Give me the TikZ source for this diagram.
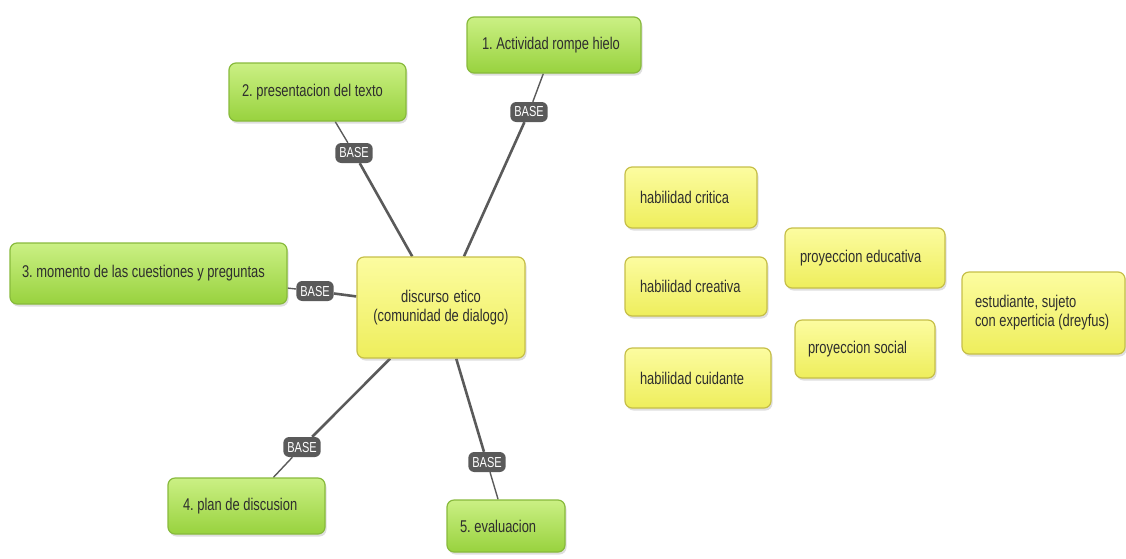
\documentclass[tikz,border=0pt]{standalone}
\usepackage{fontspec}
\setmainfont{Liberation Sans}[FakeStretch=0.76]
\usetikzlibrary{shadows,backgrounds}

\definecolor{greentop}{HTML}{CBF084}
\definecolor{greenbot}{HTML}{98D23E}
\definecolor{greenline}{HTML}{88BA3C}
\definecolor{yeltop}{HTML}{FCFCA0}
\definecolor{yelbot}{HTML}{EEEE5C}
\definecolor{yelline}{HTML}{C6BF48}
\definecolor{linkgray}{HTML}{5A5A5A}
\definecolor{inkgray}{HTML}{2E2E2E}

\newcommand\tightspace{\spaceskip=3.6pt plus 1pt minus 1pt\xspaceskip=3.6pt\hyphenpenalty=10000\relax}

\tikzset{
  mapbox/.style={rounded corners=7pt, line width=1.2pt, align=left,
    inner xsep=15pt, inner ysep=0pt, text=inkgray,
    font=\fontsize{17}{19}\selectfont,
    execute at begin node=\tightspace,
    drop shadow={shadow xshift=1.5pt, shadow yshift=-2.5pt, opacity=0.25}},
  stepbox/.style={mapbox, draw=greenline, top color=greentop, bottom color=greenbot},
  ideabox/.style={mapbox, draw=yelline, top color=yeltop, bottom color=yelbot},
  basetag/.style={fill=linkgray, text=white, rounded corners=6pt,
    font=\fontsize{14.5}{15}\selectfont, inner xsep=4pt, inner ysep=0pt,
    minimum height=20pt},
  link/.style={draw=linkgray, line width=2.6pt},
  thinlink/.style={draw=linkgray, line width=1.4pt}
}

\begin{document}
\begin{tikzpicture}[x=1pt,y=-1pt]
    \useasboundingbox (0,0) rectangle (1126,558);

    % Center
    \node[ideabox, align=center, text width=138pt, minimum height=101pt] (ctr) at (441,307.5)
        {discurso etico\\(comunidad de dialogo)};

    % Steps
    \node[stepbox, text width=144pt, minimum height=56pt] (step1) at (554,45) {1. Actividad rompe hielo};
    \node[stepbox, text width=151pt, inner xsep=13pt, minimum height=58pt] (step2) at (317.5,92) {2. presentacion del texto};
    \node[stepbox, text width=253pt, inner xsep=12pt, minimum height=61pt] (step3) at (148.5,273.5) {3. momento de las cuestiones y preguntas};
    \node[stepbox, text width=127pt, minimum height=56pt] (step4) at (246.5,506) {4. plan de discusion};
    \node[stepbox, text width=92pt, inner xsep=13pt, minimum height=52pt] (step5) at (506,526) {5. evaluacion};

    % Base tags
    \node[basetag] (base1) at (529,112) {BASE};
    \node[basetag] (base2) at (354,153) {BASE};
    \node[basetag] (base3) at (315,291) {BASE};
    \node[basetag] (base4) at (302,447) {BASE};
    \node[basetag] (base5) at (487,462) {BASE};

    % Links
    \begin{scope}[on background layer]
        \draw[link] (ctr) -- (base1);
        \draw[link] (ctr) -- (base2);
        \draw[link] (ctr) -- (base3);
        \draw[link] (ctr) -- (base4);
        \draw[link] (ctr) -- (base5);
        \draw[thinlink] (base1) -- (step1);
        \draw[thinlink] (base2) -- (step2);
        \draw[thinlink] (base3) -- (step3);
        \draw[thinlink] (base4) -- (step4);
        \draw[thinlink] (base5) -- (step5);
    \end{scope}

    % Skills
    \node[ideabox, text width=102pt, minimum height=61pt] (skill1) at (691,197.5) {habilidad critica};
    \node[ideabox, text width=112pt, minimum height=59pt] (skill2) at (696,286.5) {habilidad creativa};
    \node[ideabox, text width=116pt, minimum height=60pt] (skill3) at (698,378) {habilidad cuidante};

    % Projections
    \node[ideabox, text width=130pt, minimum height=60pt] (proj1) at (865,258) {proyeccion educativa};
    \node[ideabox, text width=114pt, inner xsep=13pt, minimum height=58pt] (proj2) at (865,349) {proyeccion social};

    % Student
    \node[ideabox, text width=137pt, inner xsep=13pt, minimum height=82pt] (student) at (1043.5,313)
        {estudiante, sujeto\\con experticia (dreyfus)};
\end{tikzpicture}
\end{document}
